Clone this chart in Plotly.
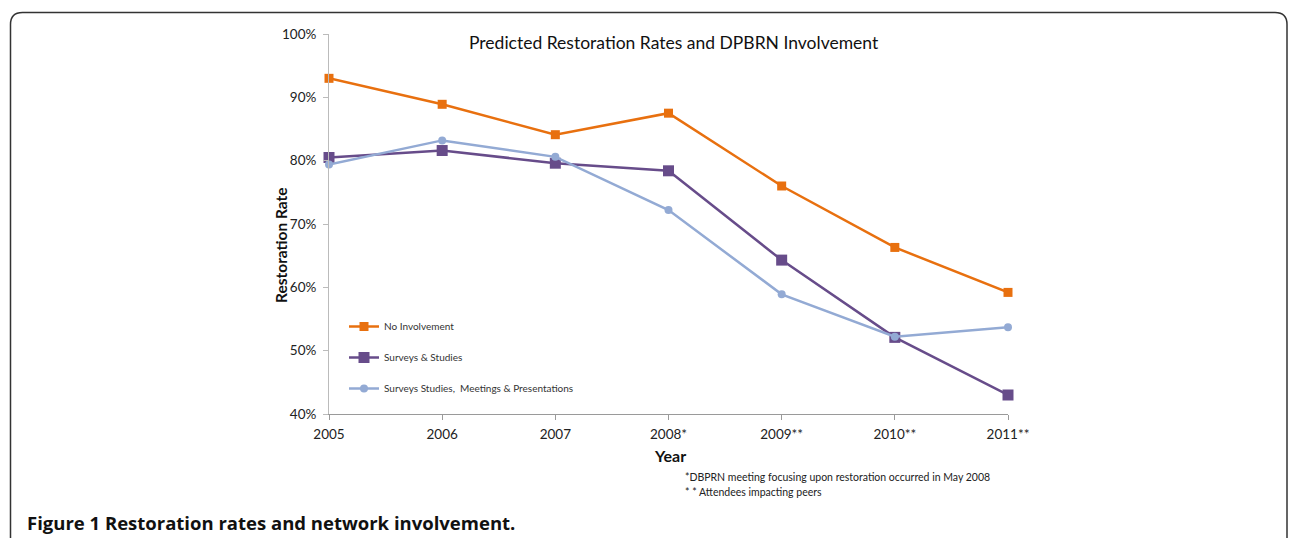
import plotly.graph_objects as go

years = ["2005", "2006", "2007", "2008*", "2009**", "2010**", "2011**"]
no_involvement = [93.0, 88.9, 84.1, 87.5, 76.0, 66.3, 59.2]
surveys_studies = [80.5, 81.6, 79.6, 78.4, 64.3, 52.1, 43.0]
surveys_meetings = [79.4, 83.2, 80.6, 72.2, 58.9, 52.2, 53.7]
y_ticks = [40, 50, 60, 70, 80, 90, 100]

series = [
    ("No Involvement", no_involvement, "#E8700F", "square", 9),
    ("Surveys & Studies", surveys_studies, "#674C8A", "square", 11),
    ("Surveys Studies,  Meetings & Presentations", surveys_meetings, "#93AAD4", "circle", 8),
]

FONT = "Lato"
x_idx = list(range(len(years)))

fig = go.Figure()
for i, (name, vals, color, sym, sz) in enumerate(series):
    fig.add_trace(go.Scatter(
        x=x_idx, y=vals, name=name, mode="lines+markers",
        line=dict(color=color, width=2.5),
        marker=dict(symbol=sym, size=sz, color=color),
        legendgroup=f"g{i}", cliponaxis=False,
    ))

# plot area pixel geometry
L, R, T, B = 329, 1008, 34, 414
W, H = 1290, 538
pw, ph = R - L, B - T

def px(x):
    return (x - L) / pw

def py(y):
    return (B - y) / ph

# rounded frame
x0, x1 = px(10.5), px(1287)
yt, yb = py(12.5), py(560)
rx, ry = 12 / pw, 12 / ph
path = (f"M {x0},{yb} L {x0},{yt - ry} Q {x0},{yt} {x0 + rx},{yt} "
        f"L {x1 - rx},{yt} Q {x1},{yt} {x1},{yt - ry} L {x1},{yb}")

fig.update_layout(
    width=W, height=H,
    margin=dict(l=L, r=W - R, t=T, b=H - B, pad=0),
    paper_bgcolor="white", plot_bgcolor="white",
    font=dict(family=FONT, color="#222222", size=12),
    showlegend=True,
    legend=dict(
        x=px(344), y=py(312), xanchor="left", yanchor="top",
        font=dict(size=10, family=FONT, color="#333333"),
        bgcolor="rgba(0,0,0,0)", tracegroupgap=12,
        traceorder="grouped", itemwidth=30,
    ),
    xaxis=dict(
        range=[0, 6], tickmode="array", tickvals=x_idx, ticktext=years,
        showgrid=False, zeroline=False, showline=True, linecolor="#9A9A9A",
        linewidth=1, ticks="outside", ticklen=5, tickcolor="#9A9A9A",
        ticklabelstandoff=3,
        tickfont=dict(size=13.5, family=FONT, color="#222222"),
    ),
    yaxis=dict(
        range=[40, 100], tickmode="array", tickvals=y_ticks,
        ticktext=[f"{v}%" for v in y_ticks],
        showgrid=False, zeroline=False, showline=True, linecolor="#BBBBBB",
        linewidth=1, ticks="outside", ticklen=5, tickcolor="#BBBBBB",
        ticklabelstandoff=4,
        tickfont=dict(size=13.5, family=FONT, color="#222222"),
    ),
    shapes=[dict(type="path", path=path, xref="paper", yref="paper",
                 line=dict(color="#333333", width=1.5), layer="above")],
)

ann = [
    dict(text="Predicted Restoration Rates and DPBRN Involvement",
         x=px(674), y=py(43), font=dict(size=17.5, family=FONT, color="#111111")),
    dict(text="<b>Restoration Rate</b>", x=px(281), y=py(245), textangle=-90,
         font=dict(size=15.5, family=FONT, color="#111111")),
    dict(text="<b>Year</b>", x=px(670), y=py(456),
         font=dict(size=16, family=FONT, color="#111111")),
    dict(text="*DBPRN meeting focusing upon restoration occurred in May 2008",
         x=px(683), y=py(477), xanchor="left",
         font=dict(size=10.5, family=FONT, color="#222222")),
    dict(text="* * Attendees impacting peers",
         x=px(683), y=py(492), xanchor="left",
         font=dict(size=10.5, family=FONT, color="#222222")),
    dict(text="<b>Figure 1</b> <b>Restoration rates and network involvement.</b>",
         x=px(25), y=py(522), xanchor="left",
         font=dict(size=18.5, family="Open Sans", color="#111111")),
]
for a in ann:
    a.setdefault("xanchor", "center")
    fig.add_annotation(xref="paper", yref="paper", showarrow=False,
                       yanchor="middle", **a)

fig.write_html("out.html")
